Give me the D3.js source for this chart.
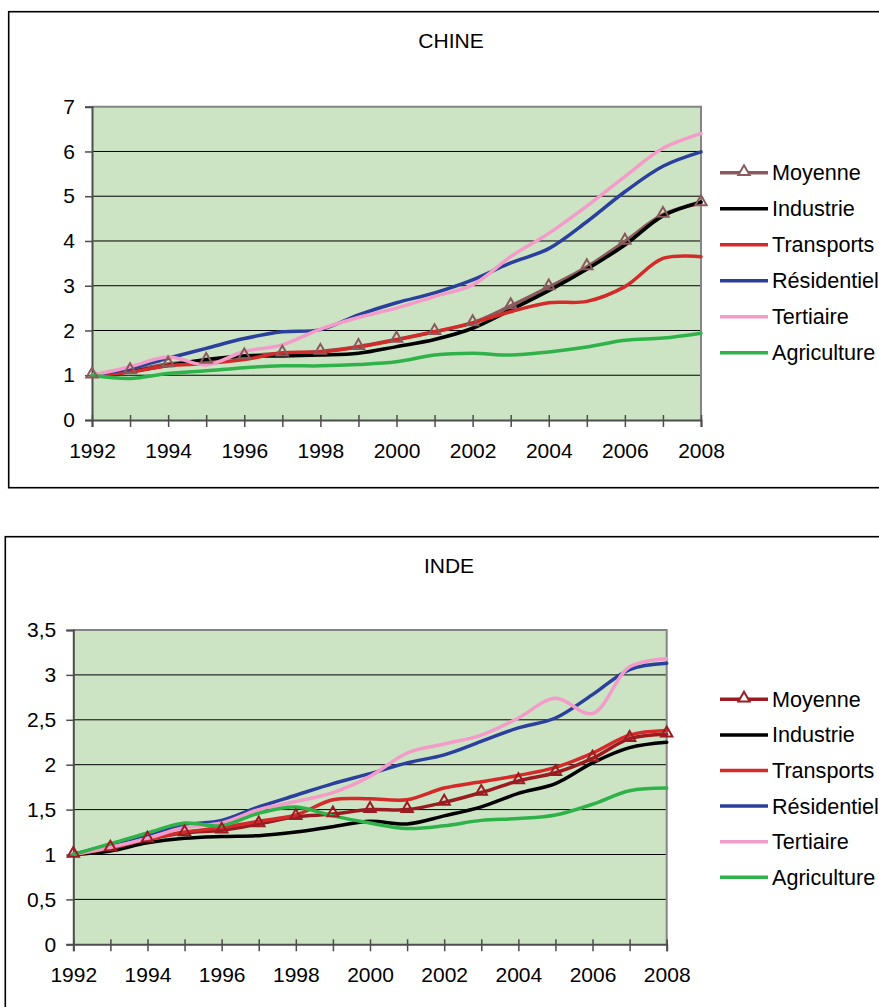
<!DOCTYPE html>
<html><head><meta charset="utf-8">
<script src="https://cdn.jsdelivr.net/npm/d3@7"></script>
<style>
html,body{margin:0;padding:0;background:#fff;}
svg{display:block;font-family:"Liberation Sans",Arial,sans-serif;}
</style></head>
<body>
<svg id="c" width="879" height="1007"></svg>
<script>
const years = [1992,1993,1994,1995,1996,1997,1998,1999,2000,2001,2002,2003,2004,2005,2006,2007,2008];
const seriesNames = ["Moyenne","Industrie","Transports","Résidentiel","Tertiaire","Agriculture"];

const chinaMoyenne     = [1.00,1.10,1.25,1.33,1.43,1.49,1.53,1.64,1.80,1.97,2.17,2.55,2.97,3.42,3.99,4.59,4.85];
const chinaIndustrie   = [1.00,1.08,1.22,1.35,1.43,1.43,1.45,1.49,1.64,1.80,2.05,2.46,2.89,3.37,3.91,4.56,4.87];
const chinaTransports  = [1.00,1.07,1.21,1.26,1.35,1.50,1.52,1.63,1.79,1.97,2.17,2.42,2.62,2.65,2.98,3.61,3.65];
const chinaResidentiel = [1.00,1.15,1.38,1.60,1.82,1.97,2.02,2.35,2.62,2.84,3.13,3.51,3.83,4.43,5.10,5.67,5.99];
const chinaTertiaire   = [1.00,1.19,1.41,1.23,1.53,1.68,2.03,2.29,2.50,2.76,3.02,3.65,4.17,4.78,5.44,6.07,6.40];
const chinaAgriculture = [1.00,0.93,1.04,1.10,1.17,1.21,1.21,1.24,1.30,1.45,1.49,1.45,1.52,1.63,1.78,1.83,1.94];

const indeMoyenne     = [1.00,1.07,1.17,1.24,1.27,1.34,1.42,1.45,1.50,1.50,1.58,1.69,1.82,1.91,2.07,2.29,2.34];
const indeIndustrie   = [1.00,1.04,1.13,1.18,1.20,1.21,1.25,1.31,1.37,1.34,1.43,1.53,1.68,1.79,2.02,2.19,2.25];
const indeTransports  = [1.00,1.07,1.17,1.25,1.30,1.37,1.44,1.61,1.62,1.61,1.74,1.81,1.88,1.97,2.13,2.33,2.38];
const indeResidentiel = [1.00,1.11,1.22,1.33,1.38,1.53,1.66,1.79,1.90,2.02,2.11,2.26,2.41,2.52,2.78,3.06,3.13];
const indeTertiaire   = [1.00,1.08,1.18,1.30,1.35,1.50,1.59,1.69,1.87,2.13,2.23,2.33,2.52,2.74,2.57,3.09,3.18];
const indeAgriculture = [1.00,1.12,1.24,1.35,1.32,1.46,1.53,1.43,1.35,1.29,1.32,1.38,1.40,1.44,1.56,1.71,1.74];

const chinaYTicks = [0,1,2,3,4,5,6,7];
const indeYTicks  = [0,0.5,1,1.5,2,2.5,3,3.5];
const xLabelYears = [1992,1994,1996,1998,2000,2002,2004,2006,2008];

const svg = d3.select("#c");
const fr = d3.formatLocale({decimal:",",thousands:" ",grouping:[3],currency:["","€"]});
const fmtComma = fr.format("~g");

function drawChart(cfg){
  const g = svg.append("g");
  g.append("rect").attr("x",cfg.box[0]).attr("y",cfg.box[1]).attr("width",cfg.box[2]).attr("height",cfg.box[3])
    .attr("fill","#fff").attr("stroke","#000").attr("stroke-width",1.6);
  g.append("text").attr("x",cfg.titleX).attr("y",cfg.titleY).attr("text-anchor","middle")
    .attr("font-size",21).attr("fill","#000").text(cfg.title);

  const x = d3.scaleLinear().domain([1992,2008]).range([cfg.x0,cfg.x1]);
  const y = d3.scaleLinear().domain([0,cfg.yMax]).range([cfg.y0,cfg.y1]);

  g.append("rect").attr("x",cfg.x0).attr("y",cfg.y1).attr("width",cfg.x1-cfg.x0).attr("height",cfg.y0-cfg.y1)
    .attr("fill","#cce4c4");
  g.append("g").selectAll("line").data(cfg.yTicks.filter(v=>v>0 && v<cfg.yMax)).join("line")
    .attr("x1",cfg.x0).attr("x2",cfg.x1).attr("y1",d=>y(d)).attr("y2",d=>y(d))
    .attr("stroke","#000").attr("stroke-width",1);
  g.append("path").attr("d",`M${cfg.x0},${cfg.y1}H${cfg.x1}V${cfg.y0}`)
    .attr("fill","none").attr("stroke","#858585").attr("stroke-width",2);

  const ya = g.append("g").attr("transform",`translate(${cfg.x0},0)`)
    .call(d3.axisLeft(y).tickValues(cfg.yTicks).tickSize(7).tickPadding(10).tickFormat(cfg.yFmt));
  ya.select(".domain").attr("stroke","#4d4d4d").attr("stroke-width",2);
  ya.selectAll(".tick line").attr("x1",1).attr("stroke","#4d4d4d").attr("stroke-width",1.5);
  ya.selectAll("text").attr("font-size",21).attr("fill","#000").attr("font-family","Liberation Sans, Arial, sans-serif");

  const xa = g.append("g").attr("transform",`translate(0,${cfg.y0})`)
    .call(d3.axisBottom(x).tickValues(years).tickSize(7).tickPadding(16)
      .tickFormat(d => xLabelYears.includes(d) ? String(d) : ""));
  xa.select(".domain").attr("stroke","#4d4d4d").attr("stroke-width",2);
  xa.selectAll(".tick line").attr("y1",-5).attr("stroke","#4d4d4d").attr("stroke-width",1.5);
  xa.selectAll("text").attr("font-size",21).attr("fill","#000").attr("font-family","Liberation Sans, Arial, sans-serif");

  const line = d3.line().x((d,i)=>x(years[i])).y(d=>y(d)).curve(d3.curveCatmullRom.alpha(0.5));
  const lg = g.append("g");
  cfg.series.forEach((s,k)=>{
    lg.append("path").datum(s.values).attr("d",line).attr("fill","none")
      .attr("stroke",s.color).attr("stroke-width",3.5).attr("stroke-linejoin","round").attr("stroke-linecap","round");
  });
  const tri = d3.symbol().type(d3.symbolTriangle).size(56);
  const mk = cfg.series[0];
  lg.append("g").selectAll("path").data(mk.values).join("path")
    .attr("transform",(d,i)=>`translate(${x(years[i])},${y(d)-1})`).attr("d",tri)
    .attr("fill","none").attr("stroke",mk.color).attr("stroke-width",2);

  const leg = g.append("g");
  cfg.series.forEach((s,k)=>{
    const yy = cfg.legY + k*cfg.legStep;
    leg.append("line").attr("x1",720).attr("x2",768).attr("y1",yy).attr("y2",yy)
      .attr("stroke",s.color).attr("stroke-width",3.5);
    if(k===0){
      leg.append("path").attr("transform",`translate(744,${yy-1})`).attr("d",tri)
        .attr("fill","#fff").attr("stroke",s.color).attr("stroke-width",2);
    }
    leg.append("text").attr("x",772).attr("y",yy+7.5).attr("font-size",21.6).attr("fill","#000").text(s.name);
  });
}

const colors = {ind:"#000000", tra:"#d42a2a", res:"#2b3f9c", ter:"#f39cc9", agr:"#2fb24a"};

drawChart({
  box:[8.7,11.7,900,476], title:"CHINE", titleX:451, titleY:47.5,
  x0:92, x1:701, y0:420, y1:106.7, yMax:7, yTicks:chinaYTicks, yFmt:d3.format("d"),
  legY:172.7, legStep:36,
  series:[
    {name:seriesNames[0], values:chinaMoyenne, color:"#8a5a5c"},
    {name:seriesNames[1], values:chinaIndustrie, color:colors.ind},
    {name:seriesNames[2], values:chinaTransports, color:colors.tra},
    {name:seriesNames[3], values:chinaResidentiel, color:colors.res},
    {name:seriesNames[4], values:chinaTertiaire, color:colors.ter},
    {name:seriesNames[5], values:chinaAgriculture, color:colors.agr}
  ]
});

drawChart({
  box:[5.3,536.7,900,500], title:"INDE", titleX:449, titleY:572.7,
  x0:73.3, x1:666.7, y0:944.3, y1:630, yMax:3.5, yTicks:indeYTicks, yFmt:fmtComma,
  legY:699.3, legStep:35.6,
  series:[
    {name:seriesNames[0], values:indeMoyenne, color:"#9a1c22"},
    {name:seriesNames[1], values:indeIndustrie, color:colors.ind},
    {name:seriesNames[2], values:indeTransports, color:colors.tra},
    {name:seriesNames[3], values:indeResidentiel, color:colors.res},
    {name:seriesNames[4], values:indeTertiaire, color:colors.ter},
    {name:seriesNames[5], values:indeAgriculture, color:colors.agr}
  ]
});
</script>
</body></html>
